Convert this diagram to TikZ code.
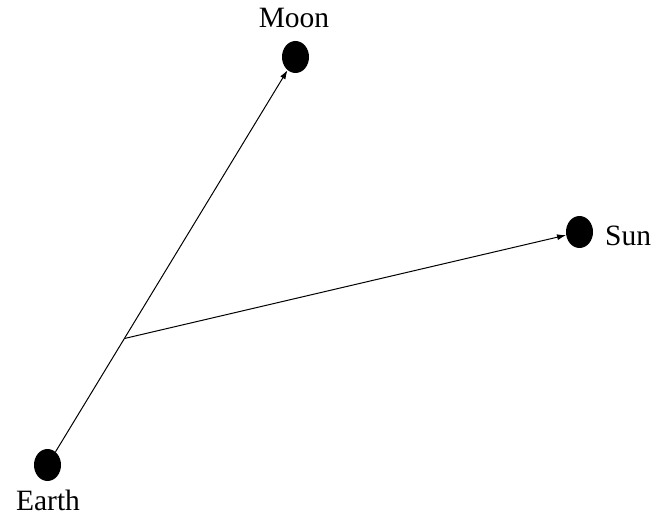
\documentclass[tikz,border=0pt]{standalone}
\usepackage{fontspec}
\setmainfont{Liberation Serif}
\usetikzlibrary{arrows.meta,calc,shapes.geometric}
\begin{document}
\begin{tikzpicture}[x=1pt,y=1pt,
  body/.style={ellipse,fill=black,minimum width=27pt,minimum height=32pt,inner sep=0pt},
  lbl/.style={font=\fontsize{29.5}{34}\selectfont,inner sep=0pt},
  conn/.style={line width=1pt,-{Latex[length=9pt,width=6pt]}}]
\useasboundingbox (0,0) rectangle (656,523);
\node[body] (earth) at (47.5,58) {};
\node[body] (moon) at (295.5,466) {};
\node[body] (sun) at (579.5,291) {};
\node[lbl,anchor=base] (earthl) at (48,13) {Earth};
\node[lbl,anchor=base] (moonl) at (294,495) {Moon};
\node[lbl,anchor=base west] (sunl) at (605,277) {Sun};
\coordinate (j) at ($(earth)!0.31!(moon)$);
\draw[conn] (earth) -- (moon);
\draw[conn] (j) -- (sun);
\end{tikzpicture}
\end{document}
